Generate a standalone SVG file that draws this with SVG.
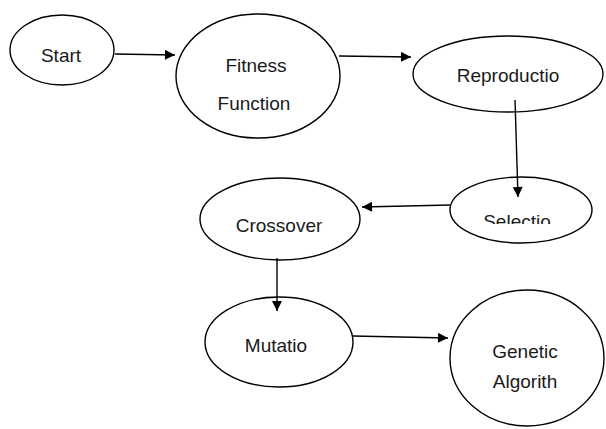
<svg xmlns="http://www.w3.org/2000/svg" width="606" height="429" viewBox="0 0 606 429">
<style>
.node ellipse{fill:#fff;stroke:#000;stroke-width:1.4}
.node text{font-family:"Liberation Sans",Arial,sans-serif;font-size:19px;fill:#1a1a1a;text-anchor:middle}
.edges line{stroke:#000;stroke-width:1.4;fill:none;marker-end:url(#ah)}
</style>
<defs>
<marker id="ah" viewBox="0 0 10 10" refX="10" refY="5" markerWidth="11" markerHeight="10" markerUnits="userSpaceOnUse" orient="auto">
<path d="M0,0 L10,5 L0,10 z" fill="#000"/>
</marker>
<clipPath id="selclip"><rect x="440" y="170" width="160" height="54"/></clipPath>
</defs>
<rect width="606" height="429" fill="#fff"/>
<g id="start" class="node"><ellipse cx="62" cy="50" rx="52" ry="35"/><text x="61" y="62">Start</text></g>
<g id="fitness" class="node"><ellipse cx="258" cy="76" rx="82" ry="62"/><text x="256" y="72">Fitness</text><text x="254" y="110">Function</text></g>
<g id="reproduction" class="node"><ellipse cx="508" cy="74" rx="95" ry="38"/><text x="508" y="82">Reproductio</text></g>
<g id="selection" class="node"><ellipse cx="521" cy="210" rx="71" ry="33"/><text x="517" y="228" clip-path="url(#selclip)">Selectio</text></g>
<g id="crossover" class="node"><ellipse cx="280" cy="219" rx="80" ry="41"/><text x="279" y="232">Crossover</text></g>
<g id="mutation" class="node"><ellipse cx="279" cy="342" rx="74" ry="45"/><text x="276" y="352">Mutatio</text></g>
<g id="genetic" class="node"><ellipse cx="527" cy="358" rx="77" ry="68"/><text x="525" y="358">Genetic</text><text x="525" y="388">Algorith</text></g>
<g class="edges">
<line x1="115" y1="54" x2="175" y2="55"/>
<line x1="339" y1="56" x2="411" y2="57"/>
<line x1="515" y1="100" x2="518" y2="197"/>
<line x1="450" y1="205" x2="362" y2="207"/>
<line x1="277" y1="258" x2="277" y2="311"/>
<line x1="353" y1="336" x2="448" y2="338"/>
</g>
</svg>
